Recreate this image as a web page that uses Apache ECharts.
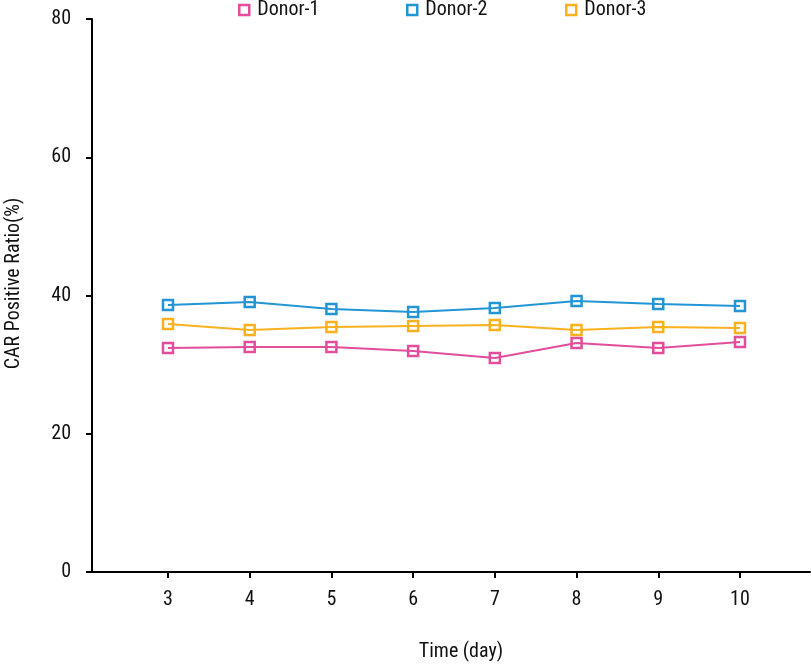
<!DOCTYPE html>
<html>
<head>
<meta charset="utf-8">
<script src="https://cdn.jsdelivr.net/npm/echarts@6/dist/echarts.min.js"></script>
<style>html,body{margin:0;padding:0;background:#fff}#c{width:811px;height:665px}</style>
</head>
<body>
<div id="c"></div>
<script>
const days = [3, 4, 5, 6, 7, 8, 9, 10];
const donor1 = [32.4, 32.55, 32.55, 31.97, 30.96, 33.13, 32.4, 33.27];
const donor2 = [38.63, 39.06, 38.05, 37.61, 38.19, 39.2, 38.77, 38.48];
const donor3 = [35.88, 35.0, 35.44, 35.59, 35.73, 35.0, 35.44, 35.3];
const yTicks = [0, 20, 40, 60, 80];
const seriesNames = ['Donor-1', 'Donor-2', 'Donor-3'];
const colors = ['#E24D9C', '#2395D4', '#F9B11F'];

const FONT = "'Roboto Condensed', 'DejaVu Sans Condensed', sans-serif";
const FS = 20;
const chart = echarts.init(document.getElementById('c'));
const allData = [donor1, donor2, donor3];
const legendLeft = [238, 406, 565];

chart.setOption({
  animation: false,
  backgroundColor: '#fff',
  textStyle: { fontFamily: FONT },
  legend: seriesNames.map((n, i) => ({
    data: [{ name: n, icon: 'rect', itemStyle: { color: '#fff', borderColor: colors[i], borderWidth: 2.5 } }],
    left: legendLeft[i], top: 0, padding: 0,
    itemWidth: 10, itemHeight: 10, itemGap: 10,
    textStyle: { fontFamily: FONT, fontSize: FS, color: '#111', padding: [0, 0, 0, 3] }
  })),
  grid: { left: 92, right: 1, top: 19, bottom: 93, outerBoundsMode: 'none', containLabel: false },
  xAxis: {
    type: 'value', min: 2.07, max: 10.857,
    name: 'Time (day)', nameLocation: 'middle', nameGap: 70,
    nameTextStyle: { fontFamily: FONT, fontSize: FS, color: '#111', padding: [0, 0, 0, 20] },
    axisLine: { show: true, onZero: false, lineStyle: { color: '#000', width: 2 } },
    axisTick: { show: true, length: 6, lineStyle: { color: '#000', width: 2 }, customValues: days },
    axisLabel: { customValues: days, fontFamily: FONT, fontSize: FS, color: '#111', margin: 18 },
    splitLine: { show: false }
  },
  yAxis: {
    type: 'value', min: 0, max: 80, interval: 20,
    name: 'CAR Positive Ratio(%)', nameLocation: 'middle', nameGap: 68, nameRotate: 90,
    nameTextStyle: { fontFamily: FONT, fontSize: FS, color: '#111', padding: [0, 0, 0, 24] },
    axisLine: { show: true, lineStyle: { color: '#000', width: 2 } },
    axisTick: { show: true, length: 6, lineStyle: { color: '#000', width: 2 } },
    axisLabel: { fontFamily: FONT, fontSize: FS, color: '#111', margin: 21, customValues: yTicks },
    splitLine: { show: false }
  },
  series: seriesNames.map((n, i) => ({
    name: n, type: 'line',
    data: days.map((d, j) => [d, allData[i][j]]),
    symbol: 'rect', symbolSize: 10,
    lineStyle: { color: colors[i], width: 2 },
    itemStyle: { color: 'rgba(255,255,255,0)', borderColor: colors[i], borderWidth: 2.5 }
  }))
});
</script>
</body>
</html>
